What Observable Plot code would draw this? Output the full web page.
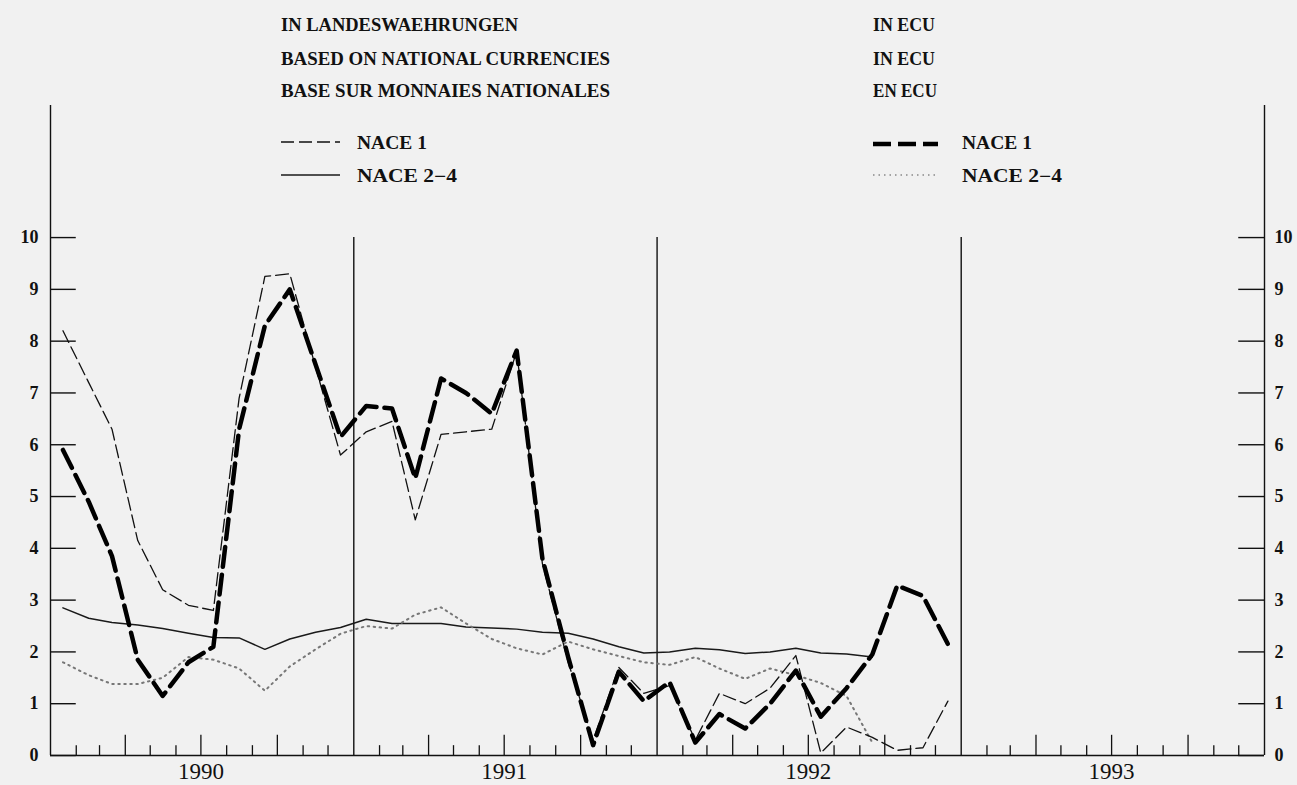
<!DOCTYPE html>
<html><head><meta charset="utf-8">
<script src="https://cdn.jsdelivr.net/npm/d3@7"></script>
<script src="https://cdn.jsdelivr.net/npm/@observablehq/plot@0.6"></script>
<style>
html,body{margin:0;padding:0;background:#f1f1f1;}
#wrap{position:relative;width:1297px;height:785px;overflow:hidden;}
#legend{position:absolute;left:0;top:0;z-index:2;}
#chart{position:absolute;left:0;top:0;z-index:1;}
</style></head><body>
<div id="wrap"><div id="chart"></div><svg id="legend" width="1297" height="200"></svg></div>
<script>
// ---- data (monthly, Jan 1990 .. Dec 1992) ----
const years = ["1990", "1991", "1992", "1993"];
const yTicks = [0, 1, 2, 3, 4, 5, 6, 7, 8, 9, 10];
const yTop = 12.55;
const nationalNace1 = [8.2, 7.2, 6.3, 4.15, 3.2, 2.9, 2.8, 6.9, 9.25, 9.3, 7.5, 5.8,
  6.25, 6.45, 4.55, 6.2, 6.25, 6.3, 7.8, 3.7, 1.8, 0.3, 1.7, 1.2,
  1.35, 0.3, 1.2, 1.0, 1.3, 1.93, 0.05, 0.55, 0.35, 0.1, 0.15, 1.05];
const ecuNace1 = [5.9, 4.9, 3.85, 1.85, 1.15, 1.8, 2.1, 6.3, 8.3, 9.0, 7.55, 6.15,
  6.75, 6.7, 5.35, 7.28, 7.0, 6.6, 7.82, 3.8, 1.9, 0.2, 1.62, 1.05,
  1.42, 0.25, 0.8, 0.52, 1.0, 1.64, 0.75, 1.3, 1.95, 3.28, 3.08, 2.15];
const nationalNace24 = [2.85, 2.65, 2.57, 2.52, 2.45, 2.36, 2.28, 2.27, 2.05, 2.25, 2.38, 2.47,
  2.63, 2.55, 2.55, 2.55, 2.48, 2.46, 2.44, 2.38, 2.36, 2.25, 2.1, 1.98,
  2.0, 2.07, 2.04, 1.97, 2.0, 2.07, 1.98, 1.96, 1.9];
const ecuNace24 = [1.8, 1.55, 1.38, 1.38, 1.5, 1.9, 1.85, 1.68, 1.25, 1.72, 2.05, 2.35,
  2.5, 2.45, 2.72, 2.86, 2.55, 2.25, 2.07, 1.95, 2.2, 2.05, 1.92, 1.8,
  1.75, 1.9, 1.68, 1.48, 1.68, 1.55, 1.4, 1.15, 0.25];

// ---- time helpers ----
const start = new Date(Date.UTC(+years[0], 0, 1));
const end = new Date(Date.UTC(+years[years.length - 1] + 1, 0, 1));
const monthStarts = d3.utcMonth.range(start, end);
const mid = i => d3.utcDay.offset(monthStarts[i], 15);
const rows = (arr, key) => arr.map((v, i) => ({date: mid(i), value: v, key}));
const yearStarts = years.map(y => new Date(Date.UTC(+y, 0, 1)));
const yearMids = years.map(y => ({date: new Date(Date.UTC(+y, 6, 1)), label: y}));
const innerTicks = monthStarts.filter(d => d.getUTCMonth() !== 0);

const serif = "'Liberation Serif', 'Times New Roman', serif";

const chart = Plot.plot({
  width: 1297, height: 785,
  marginLeft: 50, marginRight: 33, marginTop: 105, marginBottom: 30,
  style: {background: "transparent", fontFamily: serif, color: "#111"},
  x: {type: "utc", domain: [start, end], axis: null},
  y: {domain: [0, yTop], axis: null},
  marks: [
    Plot.ruleY([0], {x1: start, x2: end, stroke: "#111", strokeWidth: 1.6}),
    Plot.ruleX([start, end], {y1: 0, y2: yTop, stroke: "#111", strokeWidth: 1.4}),
    Plot.ruleX(yearStarts.slice(1), {y1: 0, y2: 10, stroke: "#111", strokeWidth: 1.4}),
    Plot.ruleX(innerTicks, {y1: 0, y2: d => d.getUTCMonth() % 3 === 0 ? 0.39 : 0.19, stroke: "#111", strokeWidth: 1.3}),
    Plot.ruleY(yTicks, {x1: start, x2: monthStarts[1], stroke: "#111", strokeWidth: 1.4}),
    Plot.ruleY(yTicks, {x1: d3.utcMonth.offset(end, -1), x2: end, stroke: "#111", strokeWidth: 1.4}),
    Plot.axisY(yTicks, {anchor: "left", label: null, tickFormat: d3.format("d"), tickSize: 0, tickPadding: 12, fontSize: 18, fontWeight: "bold", fontFamily: serif}),
    Plot.axisY(yTicks, {anchor: "right", label: null, tickFormat: d3.format("d"), tickSize: 0, tickPadding: 10, fontSize: 18, fontWeight: "bold", fontFamily: serif}),
    Plot.text(yearMids, {x: "date", text: "label", frameAnchor: "bottom", dy: 16, lineAnchor: "middle", fontSize: 23, fontFamily: serif, fill: "#111"}),
    Plot.line(rows(nationalNace24, "nat24"), {x: "date", y: "value", stroke: "#1a1a1a", strokeWidth: 1.5}),
    Plot.line(rows(ecuNace24, "ecu24"), {x: "date", y: "value", stroke: "#777", strokeWidth: 2, strokeDasharray: "1.5,4.5"}),
    Plot.line(rows(nationalNace1, "nat1"), {x: "date", y: "value", stroke: "#111", strokeWidth: 1.3, strokeDasharray: "13,5"}),
    Plot.line(rows(ecuNace1, "ecu1"), {x: "date", y: "value", stroke: "#000", strokeWidth: 4.5, strokeDasharray: "20,8"})
  ]
});
document.getElementById("chart").appendChild(chart);

// ---- header & legend ----
const leg = d3.select("#legend");
const hdrStyle = s => s.attr("font-family", serif).attr("font-weight", "bold").attr("font-size", 18).attr("fill", "#111").attr("lengthAdjust", "spacingAndGlyphs");
const headers = [
  {x: 281, y: 31, t: "IN LANDESWAEHRUNGEN", w: 237},
  {x: 281, y: 65, t: "BASED ON NATIONAL CURRENCIES", w: 329},
  {x: 281, y: 97, t: "BASE SUR MONNAIES NATIONALES", w: 329},
  {x: 873, y: 31, t: "IN ECU", w: 62},
  {x: 873, y: 65, t: "IN ECU", w: 62},
  {x: 873, y: 97, t: "EN ECU", w: 64},
  {x: 357, y: 149, t: "NACE 1", w: 70},
  {x: 357, y: 182, t: "NACE 2\u22124", w: 100},
  {x: 962, y: 149, t: "NACE 1", w: 70},
  {x: 962, y: 182, t: "NACE 2\u22124", w: 100}
];
headers.forEach(h => leg.append("text").attr("x", h.x).attr("y", h.y).text(h.t).attr("textLength", h.w).call(hdrStyle));
const swatches = [
  {x1: 281, x2: 340, y: 142, stroke: "#111", w: 1.3, dash: "13,5"},
  {x1: 281, x2: 340, y: 175, stroke: "#1a1a1a", w: 1.5, dash: null},
  {x1: 873, x2: 938, y: 144, stroke: "#000", w: 4.5, dash: "18,7"},
  {x1: 873, x2: 938, y: 175, stroke: "#888", w: 1.6, dash: "1.5,4"}
];
swatches.forEach(s => leg.append("line").attr("x1", s.x1).attr("x2", s.x2).attr("y1", s.y).attr("y2", s.y)
  .attr("stroke", s.stroke).attr("stroke-width", s.w).attr("stroke-dasharray", s.dash));
</script></body></html>
